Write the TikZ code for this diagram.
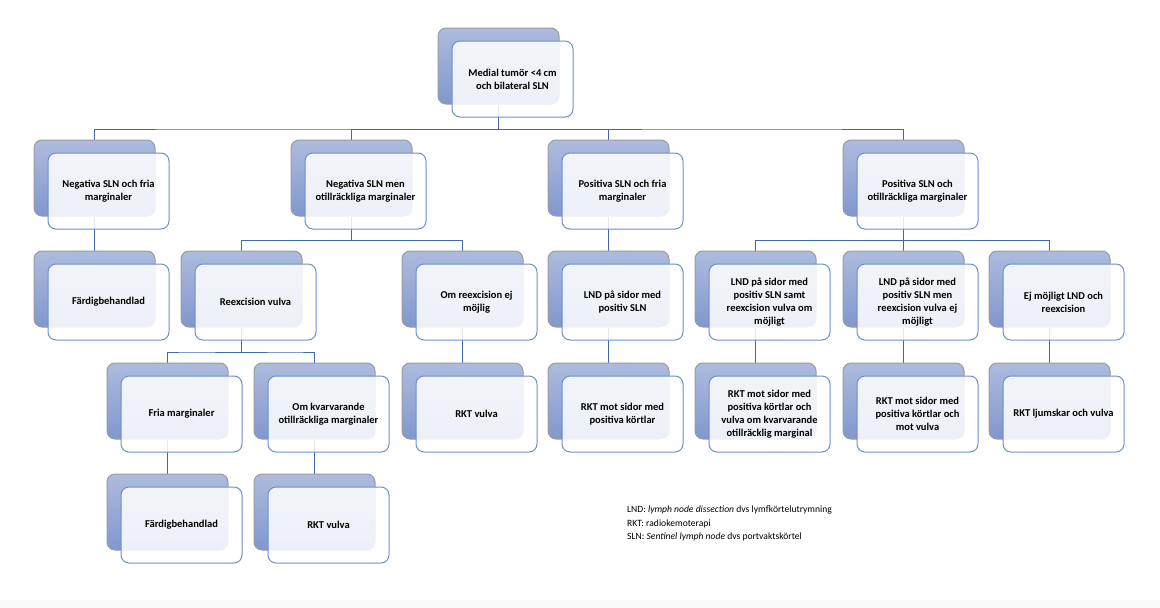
\documentclass[tikz,border=0pt]{standalone}
\usepackage{fontspec}
\setmainfont{Carlito}
\usetikzlibrary{calc,backgrounds}
\definecolor{conn}{HTML}{3E68AE}
\definecolor{fborder}{HTML}{6B8FD0}
\definecolor{btop}{HTML}{AEBBDD}
\definecolor{bbot}{HTML}{8197CE}
\definecolor{bedge}{HTML}{9A9CA3}
\definecolor{strip}{HTML}{FBFBFB}
\tikzset{
  backbox/.style={rectangle, rounded corners=8pt, minimum width=121pt, minimum height=76pt, inner sep=0pt,
    top color=btop, bottom color=bbot, draw=bedge, line width=1pt},
  frontbox/.style={rectangle, rounded corners=8pt, minimum width=121pt, minimum height=76pt, inner sep=2pt,
    draw=fborder, line width=1pt, fill=white, fill opacity=0.86, text opacity=1, align=center,
    font=\bfseries\fontsize{10.5}{13}\selectfont},
  link/.style={draw=conn, line width=1pt},
  legendtext/.style={align=left, inner sep=0pt, anchor=north west, font=\fontsize{9.6}{13.3}\selectfont}
}
\newcommand\unitbox[4]{%
  \node[backbox] (#1-b) at (#2+60.5,#3+38) {};
  \node[frontbox] (#1) at (#2+74.5,#3+51) {#4};
}
\newcommand\fork[2]{%
  \draw[link] (#1-b.south) |- ($(#1-b.south)!0.7!(#2-b.north)$) -| (#2-b.north);
}
\begin{document}
\begin{tikzpicture}[x=1pt,y=-1pt]
\useasboundingbox (0,0) rectangle (1160,608);

\unitbox{top}{438}{28}{Medial tumör <4 cm\\och bilateral SLN}

\unitbox{n1}{34}{140}{Negativa SLN och fria\\marginaler}
\unitbox{n2}{291}{140}{Negativa SLN men\\otillräckliga marginaler}
\unitbox{n3}{548}{140}{Positiva SLN och fria\\marginaler}
\unitbox{n4}{843}{140}{Positiva SLN och\\otillräckliga marginaler}

\unitbox{n1a}{34}{251}{Färdigbehandlad}
\unitbox{n2a}{181}{251}{Reexcision vulva}
\unitbox{n2b}{402}{251}{Om reexcision ej\\möjlig}
\unitbox{n3a}{548}{251}{LND på sidor med\\positiv SLN}
\unitbox{n4a}{695}{251}{LND på sidor med\\positiv SLN samt\\reexcision vulva om\\möjligt}
\unitbox{n4b}{843}{251}{LND på sidor med\\positiv SLN men\\reexcision vulva ej\\möjligt}
\unitbox{n4c}{989}{251}{Ej möjligt LND och\\reexcision}

\unitbox{n2aa}{107}{363}{Fria marginaler}
\unitbox{n2ab}{254}{363}{Om kvarvarande\\otillräckliga marginaler}
\unitbox{n2ba}{402}{363}{RKT vulva}
\unitbox{n3aa}{548}{363}{RKT mot sidor med\\positiva körtlar}
\unitbox{n4aa}{695}{363}{RKT mot sidor med\\positiva körtlar och\\vulva om kvarvarande\\otillräcklig marginal}
\unitbox{n4ba}{843}{363}{RKT mot sidor med\\positiva körtlar och\\mot vulva}
\unitbox{n4ca}{989}{363}{RKT ljumskar och vulva}

\unitbox{n2aaa}{107}{474}{Färdigbehandlad}
\unitbox{n2aba}{254}{474}{RKT vulva}

\node[legendtext] (legend) at (627,506) {LND: \textit{lymph node dissection} dvs lymfkörtelutrymning\\RKT: radiokemoterapi\\SLN: \textit{Sentinel lymph node} dvs portvaktskörtel};

\begin{scope}[on background layer]
\fill[strip] (0,600) rectangle (1160,608);
\fork{top}{n1}
\fork{top}{n2}
\fork{top}{n3}
\fork{top}{n4}
\draw[link] (n1-b.south) -- (n1a-b.north);
\fork{n2}{n2a}
\fork{n2}{n2b}
\draw[link] (n3-b.south) -- (n3a-b.north);
\fork{n4}{n4a}
\fork{n4}{n4b}
\fork{n4}{n4c}
\fork{n2a}{n2aa}
\fork{n2a}{n2ab}
\draw[link] (n2b-b.south) -- (n2ba-b.north);
\draw[link] (n3a-b.south) -- (n3aa-b.north);
\draw[link] (n4a-b.south) -- (n4aa-b.north);
\draw[link] (n4b-b.south) -- (n4ba-b.north);
\draw[link] (n4c-b.south) -- (n4ca-b.north);
\draw[link] (n2aa-b.south) -- (n2aaa-b.north);
\draw[link] (n2ab-b.south) -- (n2aba-b.north);
\end{scope}
\end{tikzpicture}
\end{document}
